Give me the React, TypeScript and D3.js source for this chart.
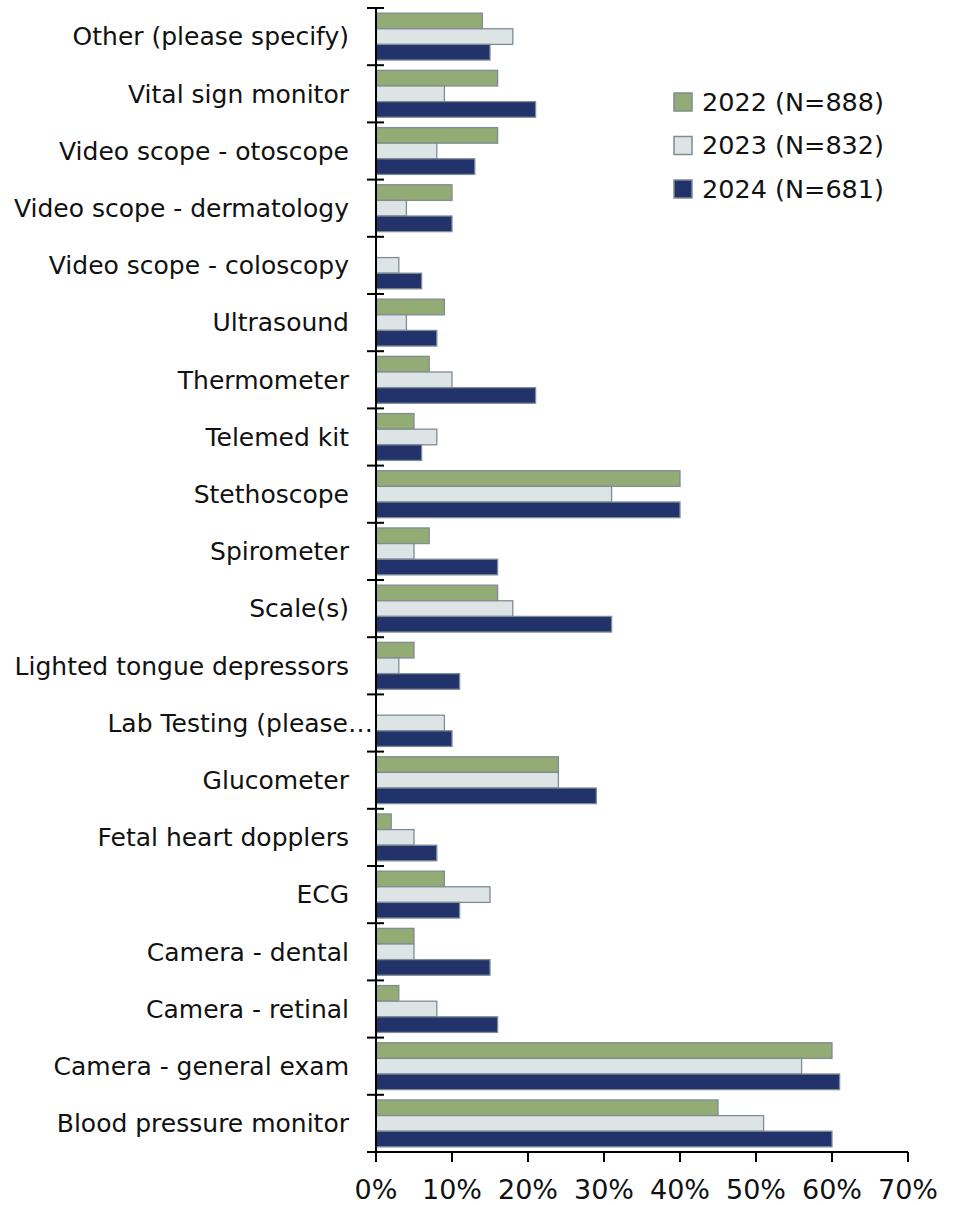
import React from "react";
import * as d3 from "d3";

const categories = [
  "Other (please specify)",
  "Vital sign monitor",
  "Video scope - otoscope",
  "Video scope - dermatology",
  "Video scope - coloscopy",
  "Ultrasound",
  "Thermometer",
  "Telemed kit",
  "Stethoscope",
  "Spirometer",
  "Scale(s)",
  "Lighted tongue depressors",
  "Lab Testing (please…",
  "Glucometer",
  "Fetal heart dopplers",
  "ECG",
  "Camera - dental",
  "Camera - retinal",
  "Camera - general exam",
  "Blood pressure monitor",
];

const values2022 = [14, 16, 16, 10, 0, 9, 7, 5, 40, 7, 16, 5, 0, 24, 2, 9, 5, 3, 60, 45];
const values2023 = [18, 9, 8, 4, 3, 4, 10, 8, 31, 5, 18, 3, 9, 24, 5, 15, 5, 8, 56, 51];
const values2024 = [15, 21, 13, 10, 6, 8, 21, 6, 40, 16, 31, 11, 10, 29, 8, 11, 15, 16, 61, 60];

const seriesNames = ["2022 (N=888)", "2023 (N=832)", "2024 (N=681)"];
const seriesColors = ["#93ab74", "#dde4e6", "#22336b"];
const xTicks = [0, 10, 20, 30, 40, 50, 60, 70];

const W = 959;
const H = 1205;
const left = 376;
const right = 908;
const top = 8;
const bottom = 1152;
const FONT = "'DejaVu Sans', sans-serif";

export default function App() {
  const x = d3.scaleLinear().domain([0, 70]).range([left, right]);
  const y = d3.scaleBand<string>().domain(categories).range([top, bottom]).paddingInner(0).paddingOuter(0);
  const inner = d3
    .scaleBand<number>()
    .domain([0, 1, 2])
    .range([0, y.bandwidth()])
    .paddingOuter(0.33)
    .paddingInner(0);
  const series = [values2022, values2023, values2024];

  return (
    <svg width={W} height={H} style={{ display: "block", position: "absolute", left: 0, top: 0 }}>
      <rect x={0} y={0} width={W} height={H} fill="#ffffff" />
      {categories.map((c, i) => (
        <g key={c}>
          {series.map((vals, s) => (
            <rect
              key={s}
              x={x(0)}
              y={(y(c) as number) + (inner(s) as number)}
              width={Math.max(0, x(vals[i]) - x(0))}
              height={inner.bandwidth()}
              fill={seriesColors[s]}
              stroke="#7f8c94"
              strokeWidth={1.3}
              style={{ display: vals[i] > 0 ? undefined : "none" }}
            />
          ))}
          <text
            x={c.endsWith("…") ? 373 : 349}
            y={(y(c) as number) + y.bandwidth() / 2}
            dy="0.35em"
            textAnchor="end"
            fontFamily={FONT}
            fontSize={25}
            fill="#111"
          >
            {c}
          </text>
        </g>
      ))}
      {/* y axis */}
      <line x1={left} x2={left} y1={top} y2={bottom} stroke="#000" strokeWidth={2} />
      {d3.range(categories.length + 1).map((k) => {
        const yy = top + k * y.step();
        return <line key={k} x1={left - 9} x2={left + 8} y1={yy} y2={yy} stroke="#000" strokeWidth={2} />;
      })}
      {/* x axis */}
      <line x1={left} x2={right} y1={bottom} y2={bottom} stroke="#000" strokeWidth={2} />
      {xTicks.map((t) => (
        <g key={t}>
          <line x1={x(t)} x2={x(t)} y1={bottom} y2={bottom + 10} stroke="#000" strokeWidth={2} />
          <text x={x(t)} y={bottom + 47} textAnchor="middle" fontFamily={FONT} fontSize={27} fill="#111">
            {t}%
          </text>
        </g>
      ))}
      {/* legend */}
      {seriesNames.map((n, s) => (
        <g key={n} transform={`translate(674, ${102 + s * 43.5})`}>
          <rect x={0} y={-9} width={18} height={18} fill={seriesColors[s]} stroke="#7f8c94" strokeWidth={1.5} />
          <text x={28} y={0} dy="0.35em" fontFamily={FONT} fontSize={25.5} fill="#111">
            {n}
          </text>
        </g>
      ))}
    </svg>
  );
}
